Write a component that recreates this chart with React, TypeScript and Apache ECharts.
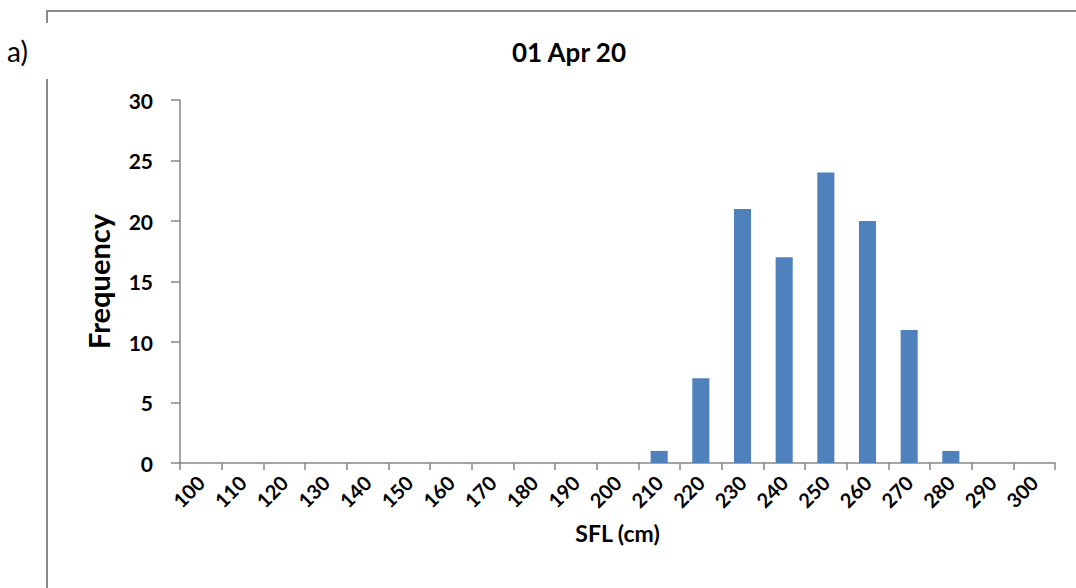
import React, { useEffect, useRef } from "react";
import * as echarts from "echarts";

const categories = ["100","110","120","130","140","150","160","170","180","190","200","210","220","230","240","250","260","270","280","290","300"];
const frequency = [0,0,0,0,0,0,0,0,0,0,0,1,7,21,17,24,20,11,1,0,0];
const yTicks = { min: 0, max: 30, interval: 5 };

const FONT = "Lato, 'Open Sans', sans-serif";

export default function App() {
  const ref = useRef<HTMLDivElement>(null);
  useEffect(() => {
    document.body.style.margin = "0";
    const chart = echarts.init(ref.current!, null, { renderer: "svg" });
    chart.setOption({
      animation: false,
      backgroundColor: "#ffffff",
      title: {
        text: "01 Apr 20",
        left: 564,
        textAlign: "center",
        top: 34,
        textStyle: { fontFamily: FONT, fontWeight: "bold", fontSize: 26, color: "#000" },
      },
      grid: { left: 180, top: 100, right: 21, bottom: 125, containLabel: false },
      xAxis: {
        type: "category",
        data: categories,
        name: "SFL (cm)",
        nameLocation: "middle",
        nameGap: 58,
        nameTextStyle: { fontFamily: FONT, fontWeight: "bold", fontSize: 23, color: "#000" },
        axisLine: { lineStyle: { color: "#868686", width: 1.5 } },
        axisTick: { show: true, length: 7, lineStyle: { color: "#868686", width: 1.5 } },
        axisLabel: { rotate: 45, interval: 0, margin: 16, fontFamily: FONT, fontWeight: "bold", fontSize: 20, color: "#000" },
        splitLine: { show: false },
      },
      yAxis: {
        type: "value",
        min: yTicks.min,
        max: yTicks.max,
        interval: yTicks.interval,
        name: "Frequency",
        nameLocation: "middle",
        nameGap: 67,
        nameTextStyle: { fontFamily: FONT, fontWeight: "bold", fontSize: 29, color: "#000" },
        axisLine: { show: true, lineStyle: { color: "#868686", width: 1.5 } },
        axisTick: { show: true, length: 9, lineStyle: { color: "#868686", width: 1.5 } },
        axisLabel: { margin: 27, fontFamily: FONT, fontWeight: "bold", fontSize: 21, color: "#000" },
        splitLine: { show: false },
      },
      series: [
        {
          type: "bar",
          data: frequency,
          barCategoryGap: "59%",
          itemStyle: { color: "#4F81BD" },
        },
      ],
      graphic: [
        { type: "line", shape: { x1: 47, y1: 11, x2: 1076, y2: 11 }, style: { stroke: "#8c8c8c", lineWidth: 2 } },
        { type: "line", shape: { x1: 47, y1: 10, x2: 47, y2: 23 }, style: { stroke: "#8c8c8c", lineWidth: 2 } },
        { type: "line", shape: { x1: 47, y1: 79, x2: 47, y2: 588 }, style: { stroke: "#8c8c8c", lineWidth: 2 } },
        { type: "text", left: 7, top: 37, style: { text: "a)", fontFamily: FONT, fontSize: 28, fill: "#000" } },
      ],
    });
    return () => chart.dispose();
  }, []);
  return <div ref={ref} style={{ width: 1076, height: 588 }} />;
}
